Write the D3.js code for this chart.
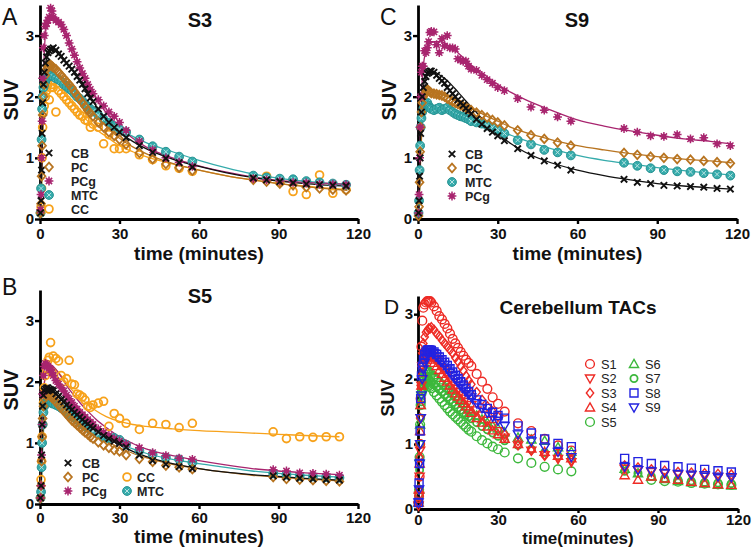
<!DOCTYPE html>
<html><head><meta charset="utf-8">
<script src="https://cdn.jsdelivr.net/npm/d3@7"></script>
<style>body{margin:0;background:#fff}text{font-family:"Liberation Sans",Arial,sans-serif}</style>
</head><body><svg id="c" width="755" height="556"></svg>
<script>
// ---------- DATA ----------
const earlyT = [0.2,0.4,0.6,0.8,1,1.3,1.6,2,2.5,3,3.5,4,4.5,5,6,7,8,9,10,11,12,13,14,15,16,17,18,19,20,22,24,26,28,30];
const midT = [32.5,37.5,42.5,47.5,52.5,57.5];
const lateA = [80.5,85.5,90.5,95.5,100.5,105.5,110.5,115.5];
const lateB = [88,93,98,103,108,113];
const lateC = [77.5,82.5,87.5,92.5,97.5,102.5,107.5,112.5,117.5];
const timesA = earlyT.concat(midT, lateA);
const timesB = earlyT.concat(midT, lateB);
const timesC = earlyT.concat(midT, lateC);
const timesD = earlyT.concat(midT, lateC);
const xTicks = [0,30,60,90,120];
const yTicks = [0,1,2,3];

// Panel A (S3)
const A_CB  = [0.1,0.3,0.8,1.4,1.9,2.2,2.4,2.55,2.65,2.72,2.75,2.78,2.78,2.8,2.76,2.7,2.66,2.6,2.55,2.5,2.45,2.4,2.33,2.27,2.2,2.13,2.05,1.98,1.92,1.8,1.68,1.58,1.5,1.42, 1.33,1.2,1.09,0.99,0.92,0.85, 0.67,0.64,0.61,0.59,0.57,0.56,0.55,0.54];
const A_PC  = [0.1,0.25,0.7,1.2,1.7,2.0,2.2,2.35,2.45,2.5,2.52,2.52,2.5,2.48,2.45,2.4,2.35,2.3,2.25,2.2,2.15,2.08,2.02,1.96,1.9,1.84,1.78,1.73,1.68,1.58,1.5,1.42,1.36,1.3, 1.22,1.08,0.98,0.9,0.84,0.79, 0.64,0.61,0.58,0.55,0.52,0.5,0.48,0.47];
const A_PCg = [0.15,0.4,1.0,1.6,2.3,2.8,3.0,3.15,3.2,3.25,3.3,3.45,3.4,3.3,3.25,3.22,3.18,3.1,3.0,2.88,2.78,2.68,2.57,2.47,2.38,2.3,2.2,2.12,2.05,1.95,1.85,1.75,1.68,1.58, 1.45,1.27,1.13,1.0,0.93,0.86, 0.66,0.64,0.62,0.6,0.59,0.57,0.57,0.56];
const A_MTC = [0.1,0.5,1.3,1.8,2.0,2.15,2.2,2.25,2.3,2.33,2.35,2.35,2.35,2.33,2.3,2.28,2.25,2.2,2.17,2.13,2.1,2.05,2.0,1.97,1.93,1.88,1.84,1.8,1.76,1.7,1.63,1.57,1.52,1.47, 1.42,1.3,1.19,1.1,1.02,0.94, 0.71,0.68,0.66,0.65,0.62,0.6,0.58,0.56];
const A_CC  = [0.1,0.2,0.5,1.0,1.5,1.75,1.85,2.0,2.1,2.2,1.95,2.15,2.2,2.15,1.75,2.1,2.05,2.0,1.95,1.9,1.85,1.8,1.75,1.7,1.68,1.62,1.6,1.5,1.55,1.5,1.23,1.38,1.15,1.15, 1.15,1.05,0.97,0.87,0.83,0.78, 0.67,0.7,0.6,0.45,0.4,0.72,0.42,0.48];
const fitTA = [0,0.5,1,1.5,2,3,4,5,6,8,10,12,15,18,21,25,30,35,40,50,60,70,80,90,100,110,116];
const A_CB_fit  = [0,0.5,1.6,2.2,2.5,2.7,2.76,2.78,2.77,2.68,2.55,2.45,2.27,2.07,1.86,1.64,1.42,1.27,1.15,0.98,0.86,0.76,0.68,0.62,0.58,0.55,0.54];
const A_PC_fit  = [0,0.4,1.4,1.95,2.2,2.42,2.5,2.52,2.5,2.42,2.32,2.22,2.05,1.86,1.7,1.52,1.32,1.18,1.07,0.91,0.8,0.71,0.64,0.58,0.53,0.49,0.47];
const A_PCg_fit = [0,0.6,1.8,2.6,3.0,3.25,3.33,3.33,3.3,3.18,3.0,2.82,2.5,2.22,1.98,1.74,1.5,1.32,1.18,1.0,0.87,0.77,0.69,0.63,0.6,0.58,0.57];
const A_MTC_fit = [0,0.5,1.5,2.0,2.2,2.3,2.35,2.35,2.33,2.28,2.2,2.12,1.98,1.84,1.72,1.6,1.46,1.35,1.25,1.1,0.96,0.84,0.74,0.67,0.62,0.58,0.56];
const A_CC_fit  = [0,0.4,1.3,1.8,2.0,2.12,2.18,2.2,2.18,2.1,2.0,1.9,1.75,1.6,1.47,1.35,1.2,1.1,1.02,0.9,0.8,0.71,0.64,0.58,0.54,0.5,0.48];

// Panel B (S5)
const B_CB  = [0.1,0.3,0.8,1.3,1.6,1.78,1.85,1.88,1.9,1.9,1.88,1.87,1.86,1.85,1.8,1.76,1.71,1.67,1.62,1.58,1.54,1.5,1.46,1.42,1.38,1.34,1.31,1.27,1.24,1.18,1.12,1.07,1.03,0.99, 0.93,0.8,0.71,0.65,0.61,0.58, 0.46,0.44,0.42,0.41,0.4,0.39];
const B_PC  = [0.1,0.3,0.7,1.1,1.4,1.6,1.72,1.78,1.8,1.8,1.78,1.76,1.74,1.72,1.67,1.62,1.57,1.52,1.47,1.42,1.37,1.33,1.29,1.25,1.21,1.17,1.14,1.1,1.07,1.01,0.96,0.92,0.88,0.86, 0.8,0.74,0.69,0.63,0.6,0.57, 0.44,0.41,0.4,0.39,0.38,0.37];
const B_PCg = [0.1,0.3,0.8,1.3,1.8,2.1,2.25,2.3,2.28,2.25,2.22,2.2,2.15,2.1,2.02,1.96,1.9,1.85,1.78,1.72,1.66,1.6,1.55,1.5,1.46,1.42,1.38,1.34,1.3,1.23,1.17,1.12,1.07,1.03, 0.98,0.92,0.84,0.79,0.75,0.73, 0.56,0.54,0.51,0.5,0.49,0.47];
const B_MTC = [0.1,0.2,0.6,1.0,1.3,1.5,1.6,1.65,1.66,1.67,1.68,1.66,1.65,1.64,1.62,1.6,1.57,1.54,1.5,1.47,1.44,1.41,1.38,1.34,1.31,1.28,1.25,1.22,1.19,1.14,1.1,1.07,1.08,1.05, 0.97,0.87,0.81,0.76,0.73,0.68, 0.5,0.48,0.46,0.45,0.44,0.43];
const B_CC  = [0.1,0.4,0.7,1.1,1.3,1.65,1.9,2.1,2.2,2.35,2.4,2.64,2.15,2.42,2.38,2.34,2.1,2.0,2.05,2.35,1.96,1.95,1.8,1.78,1.75,1.7,1.6,1.58,1.62,1.65,1.68,1.27,1.48,1.4, 1.32,1.22,1.32,1.3,1.25,1.32, 1.18,1.07,1.1,1.09,1.1,1.1];
const fitTB = [0,0.5,1,1.5,2,3,4,5,6,8,10,12,15,18,21,25,30,35,40,50,60,70,80,90,100,113];
const B_CB_fit  = [0,0.4,1.2,1.6,1.8,1.88,1.9,1.88,1.85,1.76,1.66,1.57,1.44,1.32,1.21,1.09,0.97,0.86,0.78,0.66,0.58,0.52,0.48,0.45,0.42,0.39];
const B_PC_fit  = [0,0.35,1.0,1.45,1.65,1.77,1.8,1.78,1.75,1.66,1.56,1.47,1.35,1.24,1.14,1.03,0.92,0.83,0.76,0.65,0.58,0.52,0.47,0.44,0.41,0.38];
const B_PCg_fit = [0,0.5,1.4,1.9,2.1,2.25,2.28,2.25,2.2,2.08,1.94,1.82,1.66,1.52,1.39,1.25,1.1,0.99,0.9,0.79,0.71,0.64,0.58,0.54,0.51,0.48];
const B_MTC_fit = [0,0.3,0.9,1.3,1.5,1.62,1.66,1.67,1.66,1.62,1.56,1.5,1.4,1.3,1.21,1.1,0.99,0.9,0.83,0.73,0.66,0.6,0.54,0.5,0.47,0.44];
const B_CC_fit  = [0,0.5,1.4,1.9,2.1,2.22,2.25,2.24,2.2,2.1,1.98,1.87,1.74,1.63,1.53,1.43,1.35,1.3,1.27,1.23,1.2,1.18,1.16,1.14,1.12,1.1];

// Panel C (S9)
const C_CB  = [0.1,0.3,0.7,1.0,1.4,1.75,2.0,2.15,2.25,2.33,2.38,2.4,2.42,2.42,2.4,2.35,2.3,2.26,2.22,2.15,2.1,2.05,2.0,1.95,1.9,1.86,1.81,1.77,1.72,1.63,1.55,1.48,1.42,1.36, 1.28,1.15,1.04,0.95,0.88,0.8, 0.65,0.6,0.58,0.55,0.54,0.53,0.52,0.5,0.49];
const C_PC  = [0.05,0.2,0.6,1.1,1.5,1.75,1.9,2.0,2.05,2.1,2.12,2.1,2.08,2.06,2.05,2.04,2.03,2.02,2.0,1.97,1.95,1.92,1.9,1.88,1.86,1.84,1.82,1.8,1.78,1.74,1.7,1.66,1.62,1.58, 1.53,1.45,1.37,1.31,1.25,1.2, 1.08,1.05,1.02,1.0,0.98,0.97,0.95,0.93,0.91];
const C_MTC = [0.1,0.3,0.8,1.2,1.5,1.65,1.75,1.8,1.85,1.88,1.9,1.85,1.82,1.8,1.78,1.8,1.82,1.78,1.8,1.82,1.78,1.75,1.72,1.7,1.68,1.67,1.65,1.63,1.6,1.58,1.56,1.53,1.5,1.46, 1.4,1.29,1.22,1.13,1.09,1.04, 0.92,0.87,0.83,0.8,0.78,0.77,0.75,0.73,0.71];
const C_PCg = [0.1,0.4,1.0,1.5,2.0,2.4,2.5,2.5,2.75,2.72,2.8,2.9,3.05,3.07,3.06,2.85,2.72,2.95,2.83,3.0,2.8,2.8,2.78,2.62,2.6,2.58,2.58,2.5,2.45,2.43,2.35,2.28,2.22,2.15, 2.1,1.97,1.83,1.78,1.67,1.6, 1.48,1.42,1.36,1.35,1.38,1.31,1.33,1.23,1.2];
const fitTC = [0,0.5,1,1.5,2,3,4,5,6,8,10,12,15,18,21,25,30,35,40,50,60,70,80,90,100,110,118];
const C_CB_fit  = [0,0.4,1.4,1.9,2.15,2.33,2.4,2.42,2.41,2.36,2.3,2.22,2.08,1.93,1.79,1.6,1.4,1.23,1.1,0.92,0.8,0.71,0.64,0.58,0.54,0.51,0.49];
const C_PC_fit  = [0,0.3,1.0,1.5,1.8,2.02,2.08,2.08,2.07,2.05,2.02,1.98,1.92,1.85,1.79,1.7,1.6,1.5,1.42,1.3,1.2,1.13,1.07,1.02,0.98,0.95,0.92];
const C_MTC_fit = [0,0.35,1.1,1.5,1.7,1.82,1.85,1.85,1.84,1.82,1.8,1.77,1.71,1.66,1.6,1.54,1.46,1.37,1.29,1.15,1.04,0.96,0.9,0.84,0.79,0.75,0.72];
const C_PCg_fit = [0,0.5,1.6,2.2,2.5,2.75,2.85,2.88,2.9,2.9,2.88,2.82,2.72,2.6,2.48,2.36,2.2,2.07,1.96,1.78,1.62,1.52,1.44,1.37,1.31,1.27,1.23];

// Panel D (cerebellum TACs)
const D_S1 = [0.1,0.2,0.5,1.0,1.7,2.5,2.9,3.1,3.15,3.18,3.2,3.2,3.2,3.18,3.12,3.05,2.97,2.92,2.85,2.78,2.7,2.62,2.55,2.48,2.42,2.36,2.3,2.25,2.2,2.08,1.96,1.85,1.72,1.62, 1.5,1.32,1.2,1.08,0.98,0.9, null,null,null,null,null,null,null,null,null];
const D_S2 = [0.05,0.2,0.5,0.9,1.4,1.9,2.2,2.35,2.4,2.42,2.42,2.4,2.38,2.36,2.32,2.28,2.22,2.17,2.12,2.06,2.0,1.95,1.9,1.85,1.8,1.75,1.7,1.65,1.6,1.52,1.44,1.36,1.28,1.2, 1.1,0.98,0.9,0.83,0.77,0.72, 0.62,0.6,0.57,0.55,0.53,0.52,0.5,0.49,0.48];
const D_S3 = [0.1,0.3,0.8,1.4,1.9,2.2,2.4,2.55,2.65,2.72,2.75,2.78,2.78,2.8,2.76,2.7,2.66,2.6,2.55,2.5,2.45,2.4,2.33,2.27,2.2,2.13,2.05,1.98,1.92,1.8,1.68,1.58,1.5,1.42, 1.15,1.05,0.9,0.82,0.8,0.75, 0.67,0.64,0.61,0.59,0.57,0.56,0.55,0.54,0.53];
const D_S4 = [0.1,0.3,0.7,1.2,1.6,1.9,2.1,2.25,2.3,2.33,2.35,2.35,2.33,2.3,2.25,2.2,2.14,2.08,2.02,1.96,1.9,1.84,1.78,1.73,1.68,1.63,1.58,1.53,1.48,1.4,1.33,1.27,1.21,1.15, 1.08,1.0,0.93,0.88,0.82,0.78, 0.52,0.45,0.5,0.47,0.45,0.42,0.4,0.38,0.37];
const D_S5 = [0.1,0.3,0.8,1.3,1.6,1.78,1.85,1.9,1.92,1.93,1.92,1.9,1.88,1.86,1.8,1.75,1.7,1.65,1.6,1.55,1.5,1.46,1.42,1.38,1.34,1.3,1.26,1.22,1.19,1.12,1.06,1.01,0.96,0.92, 0.87,0.78,0.71,0.65,0.61,0.58, null,null,0.45,0.43,0.42,0.4,0.39,0.38,0.37];
const D_S6 = [0.1,0.3,0.8,1.3,1.6,1.85,1.98,2.08,2.12,2.15,2.15,2.14,2.12,2.1,2.06,2.02,1.98,1.94,1.9,1.86,1.82,1.78,1.74,1.7,1.66,1.62,1.58,1.54,1.5,1.44,1.38,1.33,1.28,1.24, 1.18,1.1,1.07,1.05,0.95,0.88, 0.62,0.55,0.5,0.46,0.43,0.41,0.39,0.37,0.36];
const D_S7 = [0.1,0.2,0.6,1.0,1.4,1.65,1.8,1.9,1.95,1.98,2.0,2.0,1.98,1.96,1.92,1.88,1.84,1.8,1.76,1.72,1.68,1.64,1.6,1.56,1.52,1.48,1.45,1.42,1.39,1.33,1.27,1.22,1.17,1.12, 1.05,0.98,0.92,0.87,0.82,0.78, 0.58,0.55,0.5,0.47,0.45,0.43,0.41,0.4,0.39];
const D_S8 = [0.1,0.4,0.7,1.2,1.7,2.05,2.2,2.3,2.38,2.42,2.45,2.45,2.45,2.44,2.42,2.38,2.34,2.3,2.26,2.21,2.16,2.11,2.06,2.01,1.96,1.91,1.86,1.81,1.76,1.68,1.61,1.55,1.49,1.44, 1.4,1.28,1.17,1.08,1.01,0.96, 0.78,0.73,0.7,0.67,0.65,0.63,0.61,0.59,0.57];
const D_S9 = C_CB;

// ---------- DRAW ----------
const svg = d3.select('#c');
const FONT = '"Liberation Sans", Arial, sans-serif';
const COL = {CB:'#111', PC:'#b87420', PCg:'#a8256f', MTC:'#35abab', CC:'#f7a21b', red:'#ee2b25', green:'#3cb83c', blue:'#2323e0'};

function mark(g, shape, cx, cy, c){
  const p = (d, fill, sw) => g.append('path').attr('d', d).attr('fill', fill || 'none').attr('stroke', c).attr('stroke-width', sw || 1.6);
  if (shape === 'x') { const r=3.2; p(`M${cx-r},${cy-r}L${cx+r},${cy+r}M${cx-r},${cy+r}L${cx+r},${cy-r}`, null, 1.9); }
  else if (shape === 'diamond') { const r=4.3; p(`M${cx},${cy-r}L${cx+r*0.9},${cy}L${cx},${cy+r}L${cx-r*0.9},${cy}Z`, null, 1.8); }
  else if (shape === 'ast') {
    g.append('circle').attr('cx',cx).attr('cy',cy).attr('r',2.6).attr('fill',c);
    const r=4.4, q=r*0.7071;
    p(`M${cx-r},${cy}L${cx+r},${cy}M${cx},${cy-r}L${cx},${cy+r}M${cx-q},${cy-q}L${cx+q},${cy+q}M${cx-q},${cy+q}L${cx+q},${cy-q}`, null, 1.5);
  }
  else if (shape === 'mtc') {
    g.append('circle').attr('cx',cx).attr('cy',cy).attr('r',4.4).attr('fill',c).attr('stroke','#279393').attr('stroke-width',1);
    const r=2.2;
    g.append('path').attr('d',`M${cx-r},${cy-r}L${cx+r},${cy+r}M${cx-r},${cy+r}L${cx+r},${cy-r}`).attr('stroke','#b9e3e3').attr('stroke-width',1);
  }
  else if (shape === 'circle') { g.append('circle').attr('cx',cx).attr('cy',cy).attr('r',3.9).attr('fill','none').attr('stroke',c).attr('stroke-width',1.8); }
  else if (shape === 'dcircle') { g.append('circle').attr('cx',cx).attr('cy',cy).attr('r',4.4).attr('fill','none').attr('stroke',c).attr('stroke-width',1.4); }
  else if (shape === 'scircle') { g.append('circle').attr('cx',cx).attr('cy',cy).attr('r',3.6).attr('fill','none').attr('stroke',c).attr('stroke-width',1.8); }
  else if (shape === 'triup') { const r=4.6; p(`M${cx},${cy-r}L${cx+r},${cy+r*0.75}L${cx-r},${cy+r*0.75}Z`, null, 1.4); }
  else if (shape === 'tridown') { const r=4.6; p(`M${cx},${cy+r}L${cx+r},${cy-r*0.75}L${cx-r},${cy-r*0.75}Z`, null, 1.4); }
  else if (shape === 'ddiamond') { const r=4.6; p(`M${cx},${cy-r}L${cx+r*0.8},${cy}L${cx},${cy+r}L${cx-r*0.8},${cy}Z`, null, 1.4); }
  else if (shape === 'square') { const r=4; p(`M${cx-r},${cy-r}h${2*r}v${2*r}h${-2*r}Z`, null, 1.4); }
}

function panel(cfg){
  const g = svg.append('g');
  const x = d3.scaleLinear().domain([0,120]).range([cfg.x0, cfg.x1]);
  const y = d3.scaleLinear().domain([0, cfg.ymax]).range([cfg.yb, cfg.yt]);
  const fs = cfg.tickFont || 15;
  const fmt = d3.format('d');
  const ax = g.append('g').attr('transform',`translate(0,${cfg.yb})`)
    .call(d3.axisBottom(x).tickValues(xTicks).tickFormat(fmt).tickSize(cfg.tickLen||5).tickSizeOuter(0).tickPadding(cfg.xPad==null?4:cfg.xPad));
  const ay = g.append('g').attr('transform',`translate(${cfg.x0},0)`)
    .call(d3.axisLeft(y).tickValues(yTicks).tickFormat(fmt).tickSize(cfg.tickLen||5).tickSizeOuter(0).tickPadding(1));
  [ax, ay].forEach(a => {
    a.select('.domain').attr('stroke','#000').attr('stroke-width',2.8);
    a.selectAll('.tick line').attr('stroke','#000').attr('stroke-width',2.4);
    a.selectAll('.tick text').attr('fill','#111').style('font-family',FONT).style('font-size',fs+'px').style('font-weight','bold');
  });
  (cfg.fits || []).forEach(f => {
    const pts = f.t.map((t,i) => [t, f.v[i]]);
    g.append('path').datum(pts)
      .attr('d', d3.line().x(d => x(d[0])).y(d => y(d[1])).curve(d3.curveMonotoneX))
      .attr('fill','none').attr('stroke', f.color).attr('stroke-width', 1.3);
  });
  const mg = g.append('g');
  cfg.series.forEach(s => {
    const n = Math.min(s.t.length, s.v.length);
    for (let i = 0; i < n; i++) { if (s.v[i] == null) continue; mark(mg, s.shape, x(s.t[i]), y(s.v[i]), s.color); }
  });
  g.append('text').attr('x',(cfg.x0+cfg.x1)/2).attr('y',cfg.xlabY).attr('text-anchor','middle')
    .style('font-size',(cfg.xlabSize||19)+'px').style('font-weight','bold').attr('fill','#111').text(cfg.xlab);
  g.append('text').attr('transform',`translate(${cfg.ylabX},${cfg.ylabYc}) rotate(-90)`).attr('text-anchor','middle')
    .style('font-size',(cfg.ylabSize||20)+'px').style('font-weight','bold').attr('fill','#111').text('SUV');
  g.append('text').attr('x',cfg.titleX).attr('y',cfg.titleY).attr('text-anchor','middle')
    .style('font-size',(cfg.titleSize||20)+'px').style('font-weight','bold').attr('fill','#111').text(cfg.title);
  g.append('text').attr('x',cfg.letterX).attr('y',cfg.letterY)
    .style('font-size',(cfg.letterSize||23)+'px').attr('fill','#111').text(cfg.letter);
  const lg = g.append('g');
  cfg.legend.forEach(l => {
    mark(lg, l.shape, l.mx, l.y, l.color);
    lg.append('text').attr('x', l.tx).attr('y', l.y).attr('dy','0.36em')
      .style('font-size',(cfg.legSize||12.5)+'px').style('font-weight',cfg.legWeight||'bold').attr('fill','#222').text(l.name);
  });
}

// Panel A
panel({x0:40, x1:358, yb:219, yt:5, ymax:3.5, title:'S3', titleX:200, titleY:27, letter:'A', letterX:2, letterY:25,
  xlab:'time (minutes)', xlabY:260, ylabX:18, ylabYc:100,
  fits:[{t:fitTA,v:A_CC_fit,color:COL.CC},{t:fitTA,v:A_MTC_fit,color:COL.MTC},{t:fitTA,v:A_PC_fit,color:COL.PC},{t:fitTA,v:A_PCg_fit,color:COL.PCg},{t:fitTA,v:A_CB_fit,color:COL.CB}],
  series:[{t:timesA,v:A_CC,shape:'circle',color:COL.CC},{t:timesA,v:A_MTC,shape:'mtc',color:COL.MTC},{t:timesA,v:A_PC,shape:'diamond',color:COL.PC},{t:timesA,v:A_PCg,shape:'ast',color:COL.PCg},{t:timesA,v:A_CB,shape:'x',color:COL.CB}],
  legend:[{name:'CB',shape:'x',color:COL.CB,mx:49,tx:71,y:153},{name:'PC',shape:'diamond',color:COL.PC,mx:49,tx:71,y:167},{name:'PCg',shape:'ast',color:COL.PCg,mx:49,tx:71,y:181},{name:'MTC',shape:'mtc',color:COL.MTC,mx:49,tx:71,y:195},{name:'CC',shape:'circle',color:COL.CC,mx:49,tx:71,y:209}]
});
// Panel C
panel({x0:418, x1:737, yb:219, yt:5, ymax:3.5, title:'S9', titleX:577, titleY:27, letter:'C', letterX:380, letterY:25,
  xlab:'time (minutes)', xlabY:260, ylabX:396, ylabYc:100,
  fits:[{t:fitTC,v:C_MTC_fit,color:COL.MTC},{t:fitTC,v:C_PC_fit,color:COL.PC},{t:fitTC,v:C_PCg_fit,color:COL.PCg},{t:fitTC,v:C_CB_fit,color:COL.CB}],
  series:[{t:timesC,v:C_MTC,shape:'mtc',color:COL.MTC},{t:timesC,v:C_PC,shape:'diamond',color:COL.PC},{t:timesC,v:C_PCg,shape:'ast',color:COL.PCg},{t:timesC,v:C_CB,shape:'x',color:COL.CB}],
  legend:[{name:'CB',shape:'x',color:COL.CB,mx:452,tx:465,y:154},{name:'PC',shape:'diamond',color:COL.PC,mx:452,tx:465,y:168},{name:'MTC',shape:'mtc',color:COL.MTC,mx:452,tx:465,y:182},{name:'PCg',shape:'ast',color:COL.PCg,mx:452,tx:465,y:196}]
});
// Panel B
panel({x0:40, x1:358, yb:504, yt:290, ymax:3.5, title:'S5', titleX:200, titleY:303, letter:'B', letterX:2, letterY:295,
  xlab:'time (minutes)', xlabY:543, ylabX:18, ylabYc:390, xPad:3,
  fits:[{t:fitTB,v:B_CC_fit,color:COL.CC},{t:fitTB,v:B_MTC_fit,color:COL.MTC},{t:fitTB,v:B_PC_fit,color:COL.PC},{t:fitTB,v:B_PCg_fit,color:COL.PCg},{t:fitTB,v:B_CB_fit,color:COL.CB}],
  series:[{t:timesB,v:B_CC,shape:'circle',color:COL.CC},{t:timesB,v:B_MTC,shape:'mtc',color:COL.MTC},{t:timesB,v:B_PC,shape:'diamond',color:COL.PC},{t:timesB,v:B_PCg,shape:'ast',color:COL.PCg},{t:timesB,v:B_CB,shape:'x',color:COL.CB}],
  legend:[{name:'CB',shape:'x',color:COL.CB,mx:68,tx:82,y:463},{name:'PC',shape:'diamond',color:COL.PC,mx:68,tx:82,y:477},{name:'PCg',shape:'ast',color:COL.PCg,mx:68,tx:82,y:491},{name:'CC',shape:'circle',color:COL.CC,mx:127,tx:137,y:477},{name:'MTC',shape:'mtc',color:COL.MTC,mx:127,tx:137,y:491}]
});
// Panel D
panel({x0:418, x1:738, yb:509, yt:296, ymax:3.28, title:'Cerebellum TACs', titleX:578, titleY:314, titleSize:19, letter:'D', letterX:384, letterY:314, letterSize:21,
  xlab:'time(minutes)', xlabY:544, xlabSize:17, ylabX:394, ylabYc:398, ylabSize:18, tickFont:15, tickLen:4, xPad:1,
  fits:[],
  series:[{t:timesD,v:D_S7,shape:'scircle',color:COL.green},{t:timesD,v:D_S6,shape:'triup',color:COL.green},{t:timesD,v:D_S5,shape:'dcircle',color:COL.green},
          {t:timesD,v:D_S4,shape:'triup',color:COL.red},{t:timesD,v:D_S3,shape:'ddiamond',color:COL.red},{t:timesD,v:D_S2,shape:'tridown',color:COL.red},{t:timesD,v:D_S1,shape:'dcircle',color:COL.red},
          {t:timesD,v:D_S9,shape:'tridown',color:COL.blue},{t:timesD,v:D_S8,shape:'square',color:COL.blue}],
  legSize:12.8, legWeight:'normal',
  legend:[{name:'S1',shape:'dcircle',color:COL.red,mx:590,tx:601,y:364},{name:'S2',shape:'tridown',color:COL.red,mx:590,tx:601,y:378.5},{name:'S3',shape:'ddiamond',color:COL.red,mx:590,tx:601,y:393},{name:'S4',shape:'triup',color:COL.red,mx:590,tx:601,y:407.5},{name:'S5',shape:'dcircle',color:COL.green,mx:590,tx:601,y:422},
          {name:'S6',shape:'triup',color:COL.green,mx:634,tx:645,y:364},{name:'S7',shape:'scircle',color:COL.green,mx:634,tx:645,y:378.5},{name:'S8',shape:'square',color:COL.blue,mx:634,tx:645,y:393},{name:'S9',shape:'tridown',color:COL.blue,mx:634,tx:645,y:407.5}]
});
</script></body></html>
